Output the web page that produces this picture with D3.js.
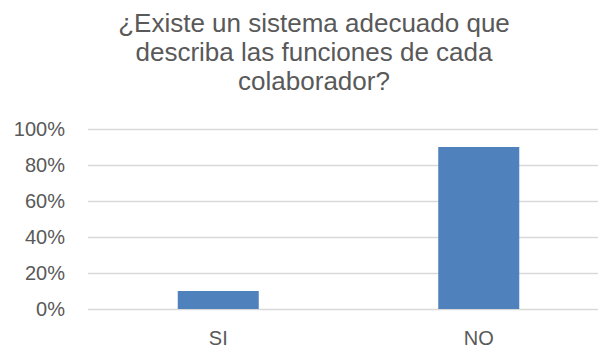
<!DOCTYPE html>
<html>
<head>
<meta charset="utf-8">
<script src="https://cdn.jsdelivr.net/npm/d3@7.9.0/dist/d3.min.js"></script>
<style>
  html, body { margin: 0; padding: 0; background: #fff; }
  svg { display: block; font-family: "Liberation Sans", Arial, sans-serif; }
</style>
</head>
<body>
<div id="chart"></div>
<script>
const titleLines = ['¿Existe un sistema adecuado que', 'describa las funciones de cada', 'colaborador?'];
const categories = ['SI', 'NO'];
const values = [0.10, 0.90];
const yTicks = [0, 0.2, 0.4, 0.6, 0.8, 1.0];

const width = 598;
const height = 351;
const margin = { top: 129, right: -11, bottom: 42, left: 88 };

const usableArea = {
  top: margin.top,
  right: width - margin.right,
  bottom: height - margin.bottom,
  left: margin.left,
};

const xScale = d3.scaleBand()
  .domain(categories)
  .range([usableArea.left, usableArea.right])
  .paddingInner(0.689)
  .paddingOuter(0.3445);

const yScale = d3.scaleLinear()
  .domain([0, 1])
  .range([usableArea.bottom, usableArea.top]);

const svg = d3.select('#chart')
  .append('svg')
  .attr('width', width)
  .attr('height', height);

// title
svg.append('text')
  .attr('x', 314)
  .attr('y', 32)
  .attr('text-anchor', 'middle')
  .attr('fill', '#595959')
  .style('font-size', '26px')
  .selectAll('tspan')
  .data(titleLines)
  .join('tspan')
  .attr('x', 314)
  .attr('dy', (d, i) => i === 0 ? 0 : 29)
  .text(d => d);

// gridlines
svg.append('g')
  .attr('transform', `translate(${usableArea.left}, 0)`)
  .call(d3.axisLeft(yScale).tickValues(yTicks).tickFormat('').tickSize(-(usableArea.right - usableArea.left)))
  .call(g => g.select('.domain').remove())
  .call(g => g.selectAll('line').attr('stroke', '#d9d9d9').attr('stroke-width', 1.5));

// y axis labels
svg.append('g')
  .attr('transform', `translate(${usableArea.left}, 0)`)
  .call(d3.axisLeft(yScale).tickValues(yTicks).tickFormat(d3.format('.0%')).tickSize(0).tickPadding(23))
  .call(g => g.select('.domain').remove())
  .call(g => g.selectAll('text')
    .attr('fill', '#595959')
    .style('font-size', '20px')
    .style('font-family', '"Liberation Sans", Arial, sans-serif'));

// bars
svg.append('g')
  .selectAll('rect')
  .data(values)
  .join('rect')
  .attr('x', (d, i) => xScale(categories[i]))
  .attr('y', d => yScale(d))
  .attr('width', xScale.bandwidth())
  .attr('height', d => yScale(0) - yScale(d))
  .attr('fill', '#4f81bd');

// x axis labels
svg.append('g')
  .attr('transform', `translate(0, ${usableArea.bottom})`)
  .call(d3.axisBottom(xScale).tickSize(0).tickPadding(22))
  .call(g => g.select('.domain').remove())
  .call(g => g.selectAll('text')
    .attr('fill', '#595959')
    .style('font-size', '20px')
    .style('font-family', '"Liberation Sans", Arial, sans-serif'));
</script>
</body>
</html>
